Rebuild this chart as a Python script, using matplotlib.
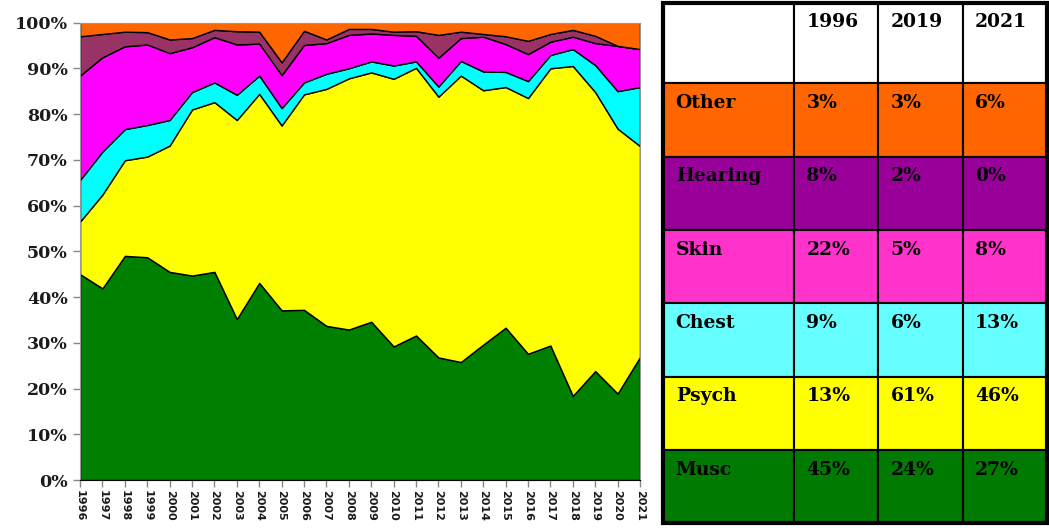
import numpy as np
import matplotlib
matplotlib.use('Agg')
import matplotlib.pyplot as plt
from matplotlib.patches import Rectangle

# Share of cases by category, percent, 1996-2021
years = list(range(1996, 2022))
musc = [45.0, 41.9, 49.0, 48.7, 45.5, 44.7, 45.5, 35.2, 43.1, 37.1, 37.2, 33.7, 32.9,
        34.6, 29.2, 31.6, 26.8, 25.8, 29.6, 33.3, 27.6, 29.4, 18.4, 23.8, 18.9, 26.9]
psych = [11.5, 20.5, 20.9, 22.0, 27.6, 36.3, 37.1, 43.5, 41.3, 40.4, 47.1, 51.8, 54.9,
         54.5, 58.5, 58.5, 57.0, 62.6, 55.6, 52.6, 55.9, 60.6, 72.1, 61.0, 57.9, 46.1]
chest = [9.1, 9.4, 6.8, 6.9, 5.6, 3.8, 4.3, 5.5, 4.0, 3.8, 2.6, 3.3, 2.2,
         2.4, 2.9, 1.4, 2.2, 3.2, 4.1, 3.3, 3.7, 2.9, 3.7, 5.9, 8.2, 12.9]
skin = [22.8, 20.6, 18.1, 17.6, 14.6, 9.8, 9.9, 11.0, 7.0, 7.2, 8.2, 6.7, 7.3,
        6.1, 6.7, 5.6, 6.3, 5.0, 7.6, 6.1, 5.9, 2.9, 2.7, 4.8, 9.9, 8.3]
hearing = [8.6, 5.1, 3.2, 2.7, 3.0, 2.0, 1.6, 2.9, 2.6, 2.8, 3.1, 0.8, 1.3,
           1.0, 0.7, 1.0, 5.0, 1.4, 0.6, 1.7, 2.9, 1.7, 1.5, 1.6, 0.0, 0.0]
other = [3.0, 2.5, 2.0, 2.1, 3.7, 3.4, 1.6, 1.9, 2.0, 8.7, 1.8, 3.7, 1.4,
         1.4, 2.0, 1.9, 2.7, 2.0, 2.5, 3.0, 4.0, 2.5, 1.6, 2.9, 5.1, 5.8]

chart_colors = ['#008000', '#FFFF00', '#00FFFF', '#FF00FF', '#993366', '#FF6600']

# Summary table
table_cols = ['1996', '2019', '2021']
table_rows = ['Other', 'Hearing', 'Skin', 'Chest', 'Psych', 'Musc']
table_vals = [['3%', '3%', '6%'],
              ['8%', '2%', '0%'],
              ['22%', '5%', '8%'],
              ['9%', '6%', '13%'],
              ['13%', '61%', '46%'],
              ['45%', '24%', '27%']]
table_colors = ['#FF6600', '#990099', '#FF33CC', '#66FFFF', '#FFFF00', '#007A00']

fig = plt.figure(figsize=(10.49, 5.30), dpi=100)

# --- stacked area chart ---
ax = fig.add_axes([0.0763, 0.0943, 0.5338, 0.8632])
series = np.array([musc, psych, chest, skin, hearing, other])
series = series / series.sum(axis=0) * 100
ax.stackplot(years, series, colors=chart_colors, edgecolor='black', linewidth=1.0)
ax.set_xlim(1996, 2021)
ax.set_ylim(0, 100)
ax.set_yticks(range(0, 101, 10))
ax.set_yticklabels([f'{v}%' for v in range(0, 101, 10)],
                   fontdict={'family': 'DejaVu Serif', 'weight': 'bold', 'size': 12.5})
ax.set_xticks(years)
ax.set_xticklabels([str(y) for y in years], rotation=-90,
                   fontdict={'family': 'DejaVu Sans', 'weight': 'bold', 'size': 8})
ax.tick_params(axis='both', colors='#888888', length=5, width=1)
ax.tick_params(axis='y', labelcolor='#1a1a1a', pad=4)
ax.tick_params(axis='x', labelcolor='#1a1a1a', pad=2)
for side in ['left', 'top', 'right', 'bottom']:
    ax.spines[side].set_color('#999999')
ax.spines['bottom'].set_color('black')

# --- table ---
tax = fig.add_axes([0.632, 0.013, 0.366, 0.982])
ncol = len(table_cols) + 1
nrow = len(table_rows) + 1
col_w = [1.55, 1.0, 1.0, 1.0]
col_x = np.concatenate([[0], np.cumsum(col_w)])
row_h = [1.1] + [1.0] * len(table_rows)
row_y = np.concatenate([[0], np.cumsum(row_h)])
tax.set_xlim(0, col_x[-1])
tax.set_ylim(row_y[-1], 0)
tax.axis('off')

font = {'family': 'DejaVu Serif', 'weight': 'bold', 'size': 13.5}
for r in range(nrow):
    for c in range(ncol):
        fc = 'white' if r == 0 else table_colors[r - 1]
        tax.add_patch(Rectangle((col_x[c], row_y[r]), col_w[c], row_h[r],
                                facecolor=fc, edgecolor='black', linewidth=1.5))
        if r == 0 and c > 0:
            txt = table_cols[c - 1]
        elif r > 0 and c == 0:
            txt = table_rows[r - 1]
        elif r > 0:
            txt = table_vals[r - 1][c - 1]
        else:
            txt = ''
        if txt:
            tax.text(col_x[c] + 0.15, row_y[r] + 0.27, txt, ha='left', va='center',
                     color='black', fontdict=font)
tax.add_patch(Rectangle((0, 0), col_x[-1], row_y[-1], facecolor='none',
                        edgecolor='black', linewidth=3, clip_on=False))

fig.savefig('out.png', dpi=100)
